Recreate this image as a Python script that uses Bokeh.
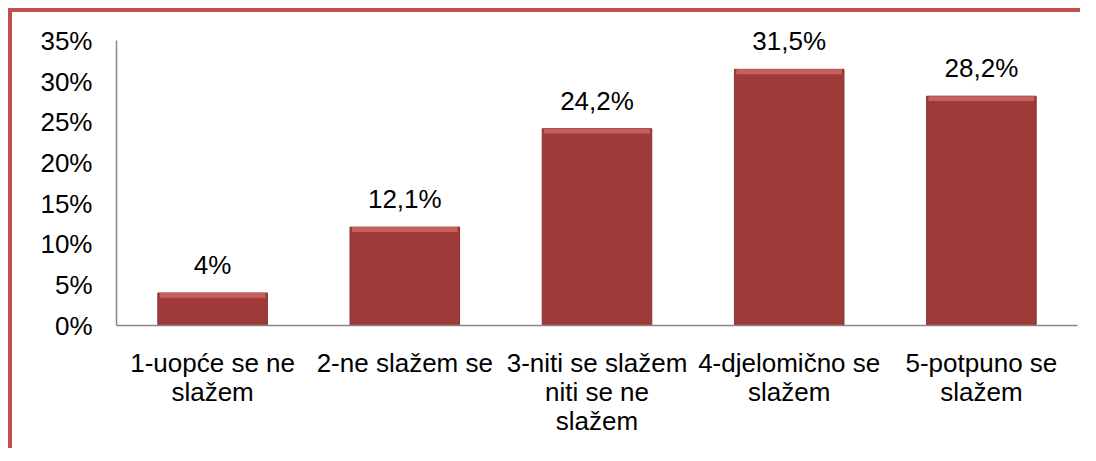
from bokeh.plotting import figure
from bokeh.models import ColumnDataSource, FixedTicker, CustomJSTickFormatter
from bokeh.core.properties import value
from bokeh.embed import file_html
from bokeh.resources import INLINE

categories = ["1-uopće se ne\nslažem", "2-ne slažem se", "3-niti se slažem\nniti se ne\nslažem",
              "4-djelomično se\nslažem", "5-potpuno se\nslažem"]
values = [4.0, 12.1, 24.2, 31.5, 28.2]
labels = ["4%", "12,1%", "24,2%", "31,5%", "28,2%"]
y_ticks = [0, 5, 10, 15, 20, 25, 30, 35]

FONT = "Liberation Sans"
FS = "26px"

src = ColumnDataSource(dict(cat=categories, val=values, lab=labels,
                            hl=[v - 0.6 for v in values]))

p = figure(x_range=categories, y_range=(0, 38), width=1072, height=440,
           output_backend="svg", toolbar_location=None,
           min_border_left=104, min_border_right=7, min_border_top=4, min_border_bottom=127)
p.styles = {"border-left": "4px solid #C0504D", "border-top": "4px solid #C0504D",
            "margin-left": "8px", "margin-top": "8px"}

p.vbar(x="cat", top="val", width=0.57, source=src, fill_color="#9E3A38", line_color="#8A3230")
p.vbar(x="cat", bottom="hl", top="val", width=0.55, source=src, fill_color="#C8605E",
       line_color=None)

p.text(x="cat", y="val", text="lab", source=src, text_align="center",
       text_baseline="alphabetic", y_offset=-28, text_font=value(FONT), text_font_size=FS,
       text_color="#000000")

p.xgrid.visible = False
p.ygrid.visible = False
p.outline_line_color = None
p.background_fill_color = "white"
p.border_fill_color = "white"

p.yaxis.ticker = FixedTicker(ticks=y_ticks)
p.yaxis.bounds = (0, 35)
p.yaxis.formatter = CustomJSTickFormatter(code="return tick + '%';")
for ax in (p.xaxis[0], p.yaxis[0]):
    ax.axis_line_color = "#888888"
    ax.axis_line_width = 1.5
    ax.major_tick_line_color = None
    ax.minor_tick_line_color = None
    ax.major_label_text_font = FONT
    ax.major_label_text_font_size = FS
    ax.major_label_text_color = "#000000"
p.yaxis.major_label_standoff = 18
p.xaxis.major_label_standoff = 16
p.xaxis.major_label_text_line_height = 0.98

open("out.html", "w").write(file_html(p, INLINE))
